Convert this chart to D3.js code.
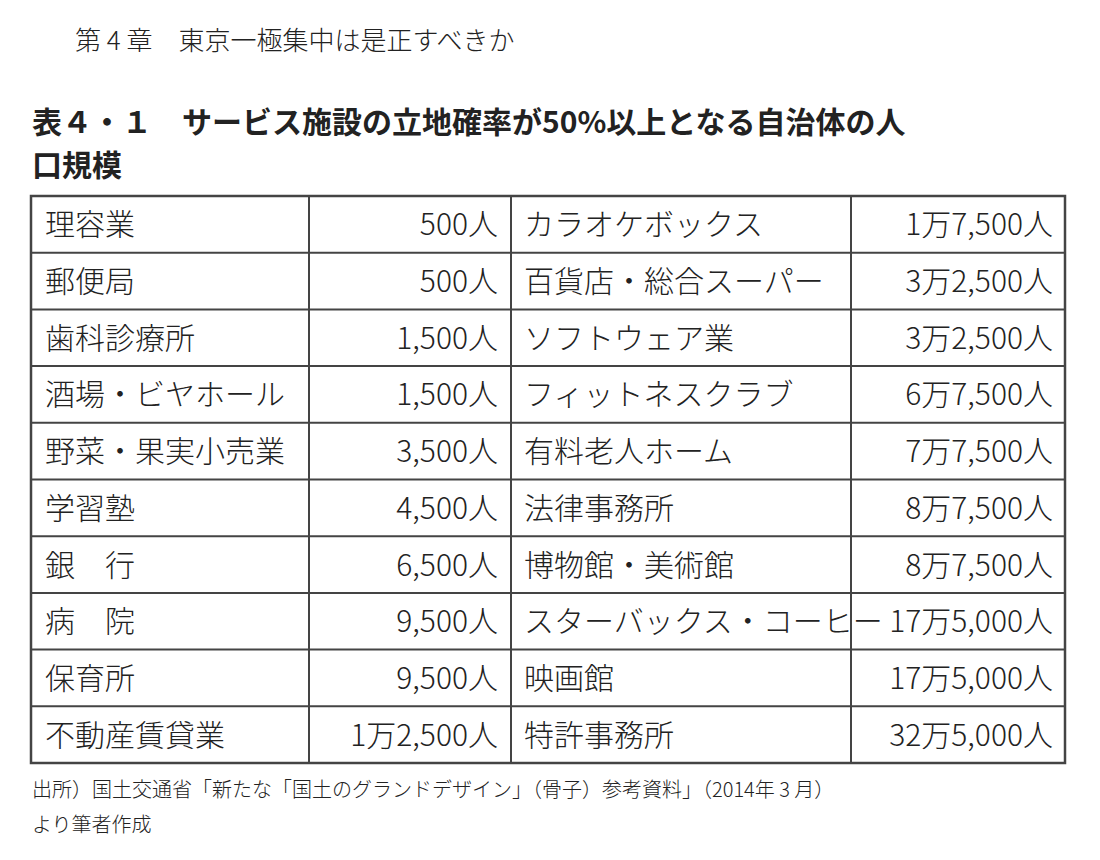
<!DOCTYPE html><html><head><meta charset="utf-8">
<script src="https://cdn.jsdelivr.net/npm/d3@7/dist/d3.min.js"></script>
<style>body{margin:0;background:#fff}</style></head><body><svg id="c" width="1100" height="860"></svg>
<script>
const leftNames=["理容業","郵便局","歯科診療所","酒場・ビヤホール","野菜・果実小売業","学習塾","銀　行","病　院","保育所","不動産賃貸業"];
const leftVals=["500人","500人","1,500人","1,500人","3,500人","4,500人","6,500人","9,500人","9,500人","1万2,500人"];
const rightNames=["カラオケボックス","百貨店・総合スーパー","ソフトウェア業","フィットネスクラブ","有料老人ホーム","法律事務所","博物館・美術館","スターバックス・コーヒー","映画館","特許事務所"];
const rightVals=["1万7,500人","3万2,500人","3万2,500人","6万7,500人","7万7,500人","8万7,500人","8万7,500人","17万5,000人","17万5,000人","32万5,000人"];
const svg=d3.select("#c");
const F="'Noto Sans CJK JP',sans-serif";
svg.append("text").attr("x",75).attr("y",50).attr("font-family",F).attr("font-weight",300).attr("font-size",26).attr("fill","#222").text("第 4 章　東京一極集中は是正すべきか");
svg.append("text").attr("x",32).attr("y",133).attr("font-family",F).attr("font-weight",700).attr("font-size",30).attr("fill","#222").text("表４・１　サービス施設の立地確率が50%以上となる自治体の人");
svg.append("text").attr("x",32).attr("y",176).attr("font-family",F).attr("font-weight",700).attr("font-size",30).attr("fill","#222").text("口規模");
const y=d3.scaleBand().domain(d3.range(10)).range([196,763]);
const cols=[31,309,511,851,1065];
const g=svg.append("g");
g.append("rect").attr("x",cols[0]).attr("y",196).attr("width",cols[4]-cols[0]).attr("height",567).attr("fill","none").attr("stroke","#444").attr("stroke-width",2.5);
cols.slice(1,4).forEach(x=>g.append("line").attr("x1",x).attr("x2",x).attr("y1",196).attr("y2",763).attr("stroke","#444").attr("stroke-width",2));
d3.range(1,10).forEach(i=>g.append("line").attr("x1",cols[0]).attr("x2",cols[4]).attr("y1",y(i)).attr("y2",y(i)).attr("stroke","#444").attr("stroke-width",2));
const t=(arr,x,anchor)=>g.selectAll(null).data(arr).join("text").attr("x",x).attr("y",(d,i)=>y(i)+y.bandwidth()/2+11).attr("text-anchor",anchor).attr("font-family",F).attr("font-weight",300).attr("font-size",30).attr("fill","#222").text(d=>d);
t(leftNames,45,"start");t(leftVals,498,"end");t(rightNames,524,"start");t(rightVals,1053,"end");
svg.append("text").attr("x",32).attr("y",797).attr("font-family",F).attr("font-weight",300).attr("font-size",20).attr("fill","#222").text("出所）国土交通省「新たな「国土のグランドデザイン」（骨子）参考資料」（2014年 3 月）");
svg.append("text").attr("x",32).attr("y",832).attr("font-family",F).attr("font-weight",300).attr("font-size",20).attr("fill","#222").text("より筆者作成");
</script></body></html>
